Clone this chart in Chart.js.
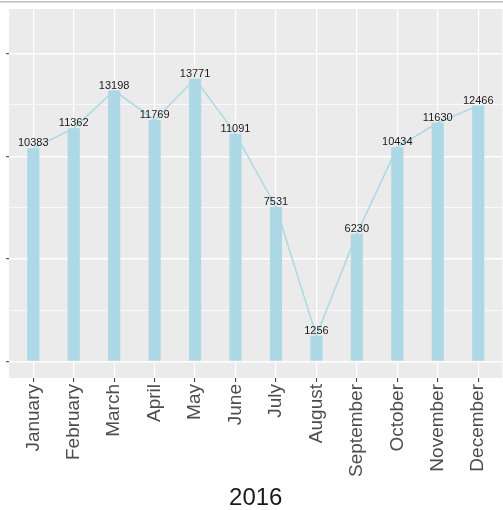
<!DOCTYPE html>
<html>
<head>
<meta charset="utf-8">
<script src="https://cdn.jsdelivr.net/npm/chart.js@4"></script>
<style>
  body { margin: 0; background: #fff; }
  canvas { display: block; }
</style>
</head>
<body>
<canvas id="monthChart" width="503" height="510"></canvas>
<script>
// ---- data ----
const months = ["January", "February", "March", "April", "May", "June",
  "July", "August", "September", "October", "November", "December"];
const counts = [10383, 11362, 13198, 11769, 13771, 11091, 7531, 1256, 6230, 10434, 11630, 12466];
const yearLabel = "2016";
const yMajorTicks = [0, 5000, 10000, 15000];
const yMinorTicks = [2500, 7500, 12500];

// points for the linear x scale (1..12)
const points = counts.map((v, i) => ({ x: i + 1, y: v }));

// grey panel + the thin line along the top of the picture
const panelBg = {
  id: "panelBg",
  beforeDraw(chart) {
    const { ctx, chartArea: a } = chart;
    ctx.save();
    ctx.fillStyle = "#bdbdbd";
    ctx.fillRect(0, 1, chart.width, 1.5);
    ctx.fillStyle = "#ebebeb";
    ctx.fillRect(a.left, a.top, a.right - a.left, a.bottom - a.top);
    ctx.restore();
  }
};

// numbers above the bars
const valueLabels = {
  id: "valueLabels",
  afterDatasetsDraw(chart) {
    const { ctx } = chart;
    const meta = chart.getDatasetMeta(0);
    ctx.save();
    ctx.font = "11px 'Liberation Sans', Arial, sans-serif";
    ctx.fillStyle = "#1a1a1a";
    ctx.textAlign = "center";
    ctx.textBaseline = "alphabetic";
    meta.data.forEach((bar, i) => {
      ctx.fillText(String(counts[i]), bar.x, bar.y - 2);
    });
    ctx.restore();
  }
};

const isMajor = (ctx) => ctx.tick && yMajorTicks.includes(ctx.tick.value);

const chart = new Chart(document.getElementById("monthChart"), {
  type: "bar",
  data: {
    datasets: [
      {
        type: "bar",
        data: points,
        backgroundColor: "#add8e6",
        borderWidth: 0,
        barPercentage: 0.3,
        categoryPercentage: 1,
        order: 2
      },
      {
        type: "line",
        data: points,
        borderColor: "#add8e6",
        borderWidth: 1.5,
        pointRadius: 0,
        fill: false,
        order: 1
      }
    ]
  },
  options: {
    responsive: false,
    animation: false,
    events: [],
    layout: { autoPadding: false, padding: { top: 9, left: 0, right: 0, bottom: 0 } },
    plugins: {
      legend: { display: false },
      tooltip: { enabled: false }
    },
    scales: {
      x: {
        type: "linear",
        offset: false,
        min: 0.4,
        max: 12.6,
        afterBuildTicks(scale) {
          scale.ticks = months.map((m, i) => ({ value: i + 1 }));
        },
        afterFit(scale) {
          scale.height = 132;
        },
        border: { display: false },
        grid: {
          offset: false,
          color: "#ffffff",
          lineWidth: 1.2,
          tickColor: "#333333",
          tickLength: 4,
          tickWidth: 1
        },
        ticks: {
          autoSkip: false,
          minRotation: 90,
          maxRotation: 90,
          padding: 2,
          color: "#4d4d4d",
          font: { family: "'Liberation Sans', Arial, sans-serif", size: 19 },
          callback: (v) => months[v - 1]
        },
        title: {
          display: true,
          text: yearLabel,
          color: "#1a1a1a",
          font: { family: "'Liberation Sans', Arial, sans-serif", size: 24, lineHeight: 1 },
          padding: { top: 0, bottom: 0 }
        }
      },
      y: {
        min: -800,
        max: 17170,
        afterBuildTicks(scale) {
          scale.ticks = yMajorTicks.concat(yMinorTicks)
            .sort((a, b) => a - b)
            .map((v) => ({ value: v }));
        },
        afterFit(scale) {
          scale.width = 9;
        },
        border: { display: false },
        grid: {
          color: "#ffffff",
          lineWidth: (ctx) => (isMajor(ctx) ? 1.4 : 0.7),
          tickColor: (ctx) => (isMajor(ctx) ? "#333333" : "rgba(0,0,0,0)"),
          tickLength: 3,
          tickWidth: 1
        },
        ticks: { display: false }
      }
    }
  },
  plugins: [panelBg, valueLabels]
});
</script>
</body>
</html>
